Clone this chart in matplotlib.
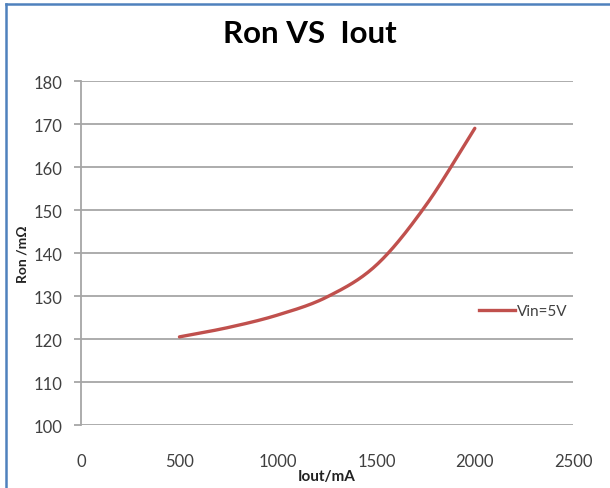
import numpy as np
import matplotlib
matplotlib.use("Agg")
import matplotlib.pyplot as plt
from matplotlib.lines import Line2D

# Data
iout = [500, 750, 1000, 1250, 1500, 1750, 2000]
ron = [120.5, 122.7, 125.6, 129.8, 137.2, 151.0, 169.0]
series_label = "Vin=5V"
title = "Ron VS  Iout"
xlabel = "Iout/mA"
ylabel = "Ron /mΩ"
xticks = [0, 500, 1000, 1500, 2000, 2500]
yticks = [100, 110, 120, 130, 140, 150, 160, 170, 180]


def catmull_rom(x, y, n=30):
    x = np.asarray(x, float); y = np.asarray(y, float)
    px = np.concatenate([[2 * x[0] - x[1]], x, [2 * x[-1] - x[-2]]])
    py = np.concatenate([[2 * y[0] - y[1]], y, [2 * y[-1] - y[-2]]])
    xs, ys = [], []
    t = np.linspace(0, 1, n)
    for i in range(1, len(px) - 2):
        for P, out in ((px, xs), (py, ys)):
            p0, p1, p2, p3 = P[i - 1], P[i], P[i + 1], P[i + 2]
            out.append(0.5 * ((2 * p1) + (-p0 + p2) * t + (2 * p0 - 5 * p1 + 4 * p2 - p3) * t ** 2
                              + (-p0 + 3 * p1 - 3 * p2 + p3) * t ** 3))
    return np.concatenate(xs), np.concatenate(ys)


plt.rcParams['font.family'] = ['Lato', 'DejaVu Sans']
fig = plt.figure(figsize=(6.10, 4.89), dpi=100)
ax = fig.add_axes([0.1328, 0.1288, 0.807, 0.7035])

sx, sy = catmull_rom(iout, ron)
ax.plot(sx, sy, color="#C0504D", lw=2.4, solid_capstyle="round")

ax.set_xlim(0, 2500)
ax.set_ylim(100, 180)
ax.set_xticks(xticks)
ax.set_yticks(yticks)
ax.set_xticklabels([str(v) for v in xticks], fontsize=12, color="#404040")
ax.set_yticklabels([str(v) for v in yticks], fontsize=12, color="#404040")
ax.yaxis.grid(True, color="#A6A6A6", lw=1.3)
ax.set_axisbelow(True)
for s in ["top", "right", "bottom"]:
    ax.spines[s].set_visible(False)
ax.spines["left"].set_color("#A6A6A6")
ax.spines["left"].set_linewidth(1.3)
ax.tick_params(axis="y", length=5, color="#A6A6A6", width=1.3, pad=8)
ax.tick_params(axis="x", length=0, pad=20)

ax.set_xlabel(xlabel, fontsize=11, fontweight="bold", color="#222222", labelpad=0)
ax.set_ylabel(ylabel, fontsize=10, fontweight="bold", color="#222222", labelpad=4)
fig.text(0.508, 0.931, title, fontsize=22.5, fontweight="bold", ha="center", va="center", color="#000000")

leg = ax.legend([Line2D([], [], color="#C0504D", lw=2.4)], [series_label], loc="center left",
                bbox_to_anchor=(0.78, 0.33), frameon=False, fontsize=11, handlelength=2.4,
                handletextpad=0.1, labelcolor="#404040")

# outer border (left and top)
fig.add_artist(Line2D([0.0105, 0.0105], [0.0, 0.99], transform=fig.transFigure, color="#4F81BD", lw=1.8))
fig.add_artist(Line2D([0.0105, 1.0], [0.99, 0.99], transform=fig.transFigure, color="#4F81BD", lw=1.8))

fig.savefig("out.png", dpi=100)
